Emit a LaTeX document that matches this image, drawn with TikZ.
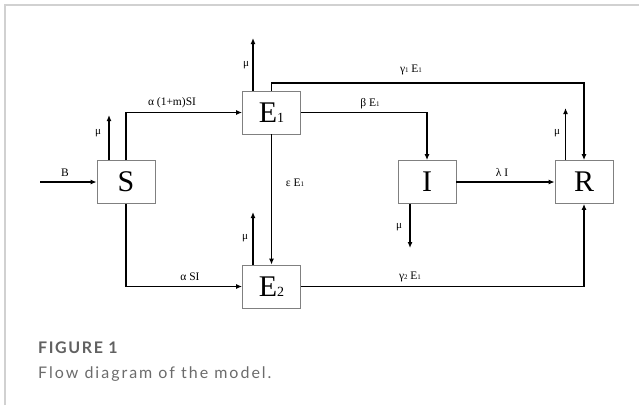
\documentclass[tikz,border=0pt]{standalone}
\usepackage{fontspec}
\setmainfont{Liberation Serif}
\newfontfamily\capfontA{Lato}[LetterSpace=10]
\newfontfamily\capfontB{Lato}[LetterSpace=12.5]
\usetikzlibrary{arrows.meta}
\newcommand{\sbs}[1]{{\fontsize{7}{7}\selectfont #1}}
\newcommand{\bsbs}[1]{{\fontsize{14}{14}\selectfont #1}}
\begin{document}
\begin{tikzpicture}[x=1pt,y=-1pt,
  box/.style={draw=black!50, line width=0.8pt, minimum width=58pt, minimum height=43pt, inner sep=0pt,
     font=\fontsize{30}{30}\selectfont},
  arr/.style={line width=1.4pt, -{Latex[length=6pt,width=5pt]}},
  lbl/.style={font=\fontsize{11.5}{12}\selectfont, inner sep=0pt},
  mu/.style={font=\fontsize{11}{12}\selectfont, inner sep=0pt}]
\useasboundingbox (0,0) rectangle (639,405);
\draw[black!18, line width=2pt] (4.7,405) -- (4.7,5) -- (639,5);
% boxes
\node[box] (S) at (126,182) {S};
\node[box] (E1) at (271.5,112.5) {E\bsbs{1}};
\node[box] (E2) at (271.5,286.5) {E\bsbs{2}};
\node[box] (I) at (427,182) {I};
\node[box] (R) at (584,182) {R};
% free ends
\coordinate (B0) at (40,182);
\coordinate (muS) at (109,115);
\coordinate (muE1) at (253,38);
\coordinate (muE2) at (253,212);
\coordinate (muI) at (410,248);
\coordinate (muR) at (565.5,108);
% connectors
\draw[arr] (B0) -- (S.west);
\draw[arr] (S.north -| muS) -- (muS);
\draw[arr] (S.north) |- (E1.west);
\draw[arr] (E1.north -| muE1) -- (muE1);
\draw[arr] (E1.north) -- ++(0,-7.5) -| (R.north);
\draw[arr] (E1.east) -| (I.north);
\draw[arr] (E1.south) -- (E2.north);
\draw[arr] (E2.north -| muE2) -- (muE2);
\draw[arr] (S.south) |- (E2.west);
\draw[arr] (I.east) -- (R.west);
\draw[arr] (I.south -| muI) -- (muI);
\draw[arr] (E2.east) -| (R.south);
\draw[arr] (R.north -| muR) -- (muR);
% labels
\node[lbl] (lB) at (65,173) {B};
\node[mu] (m1) at (98,133) {μ};
\node[mu] (m2) at (246,65) {μ};
\node[mu] (m3) at (245,238) {μ};
\node[mu] (m4) at (399,227) {μ};
\node[mu] (m5) at (557,133) {μ};
\node[lbl] (la) at (172,103) {α (1+m)SI};
\node[lbl] (lg1) at (411,70) {γ\sbs{1} E\sbs{1}};
\node[lbl] (lb) at (370,104) {β E\sbs{1}};
\node[lbl] (le) at (295,183) {ε E\sbs{1}};
\node[lbl] (ll) at (502,172) {λ I};
\node[lbl] (las) at (190,277) {α SI};
\node[lbl] (lg2) at (410,277) {γ\sbs{2} E\sbs{1}};
% caption
\node[anchor=base west, inner sep=0pt, text=black!62, font=\capfontA\bfseries\fontsize{16}{17}\selectfont] (fig) at (38,353) {FIGURE 1};
\node[anchor=base west, inner sep=0pt, text=black!58, font=\capfontB\fontsize{16}{17}\selectfont] (cap) at (38,378) {Flow diagram of the model.};
\end{tikzpicture}
\end{document}
